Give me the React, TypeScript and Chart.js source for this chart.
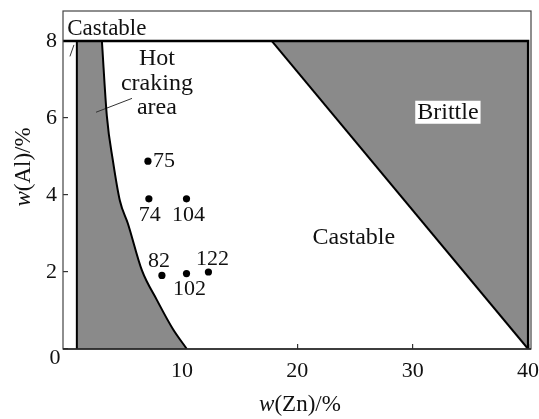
import { useEffect, useRef } from 'react';
import { Chart, registerables } from 'chart.js';

Chart.register(...registerables);

// ---- data (w(Zn) %, w(Al) %) ----
const xTicks = [10, 20, 30, 40];
const yTicks = [0, 2, 4, 6, 8];

// hot-cracking boundary curve
const crackZn = [3.07, 3.5, 4.03, 4.63, 5.32, 6.54, 7.84, 9.22, 10.43];
const crackAl = [8, 6.05, 4.88, 3.85, 3.26, 2.04, 1.27, 0.52, 0];
// left (castable strip) boundary
const leftEdgeZn = [0.9, 0.9];
const leftEdgeAl = [0, 8];
// top limit line and right limit
const limitZn = [-0.3, 40, 40];
const limitAl = [8, 8, 0];
// brittle boundary
const brittleZn = [17.8, 40];
const brittleAl = [8, 0];

// alloy samples
const sampleIds = ['75', '74', '104', '82', '102', '122'];
const sampleZn = [7.06, 7.14, 10.4, 8.27, 10.4, 12.3];
const sampleAl = [4.88, 3.9, 3.9, 1.91, 1.96, 2.0];

// ---- layout / style (not data) ----
const SERIF = "'Liberation Serif', 'Times New Roman', serif";
const GRAY = '#8a8a8a';
const sampleLabelOffsets: [number, number][] = [
  [16, 0],
  [1, 16],
  [2, 16],
  [-3, -14],
  [3, 16],
  [4, -13],
];
const regionLabels = [
  { text: 'Castable', x: 3.5, y: 8.32, size: 23 },
  { text: 'Hot', x: 7.84, y: 7.55, size: 24 },
  { text: 'craking', x: 7.84, y: 6.9, size: 24 },
  { text: 'area', x: 7.84, y: 6.28, size: 24 },
  { text: 'Castable', x: 24.9, y: 2.89, size: 24 },
];
const brittleLabel = { text: 'Brittle', x: 33.05, y: 6.15, size: 24 };
const leaderLines = [
  { x: [0.3, 0.65], y: [7.6, 7.9] },
  { x: [2.56, 5.68], y: [6.15, 6.51] },
];

const pts = (xs: number[], ys: number[]) => xs.map((x, i) => ({ x, y: ys[i] }));

function drawMixed(ctx: CanvasRenderingContext2D, parts: { t: string; it: boolean }[], cx: number, cy: number, size: number) {
  const widths = parts.map((p) => {
    ctx.font = `${p.it ? 'italic ' : ''}${size}px ${SERIF}`;
    return ctx.measureText(p.t).width;
  });
  const total = widths.reduce((a, b) => a + b, 0);
  let x = cx - total / 2;
  ctx.textAlign = 'left';
  ctx.textBaseline = 'middle';
  parts.forEach((p, i) => {
    ctx.font = `${p.it ? 'italic ' : ''}${size}px ${SERIF}`;
    ctx.fillText(p.t, x, cy);
    x += widths[i];
  });
}

const overlayPlugin = {
  id: 'overlay',
  afterDatasetsDraw(chart: any) {
    const { ctx, chartArea, scales } = chart;
    const xs = scales.x;
    const ys = scales.y;
    ctx.save();
    // frame
    ctx.strokeStyle = '#444';
    ctx.lineWidth = 1.2;
    ctx.strokeRect(chartArea.left, chartArea.top, chartArea.right - chartArea.left, chartArea.bottom - chartArea.top);
    ctx.strokeStyle = '#222';
    ctx.lineWidth = 1.6;
    ctx.beginPath();
    ctx.moveTo(chartArea.left, chartArea.bottom);
    ctx.lineTo(chartArea.right, chartArea.bottom);
    ctx.stroke();

    ctx.fillStyle = '#111';
    ctx.textAlign = 'center';
    ctx.textBaseline = 'middle';
    // sample labels
    ctx.font = `22px ${SERIF}`;
    sampleIds.forEach((id, i) => {
      const px = xs.getPixelForValue(sampleZn[i]) + sampleLabelOffsets[i][0];
      const py = ys.getPixelForValue(sampleAl[i]) + sampleLabelOffsets[i][1];
      ctx.fillText(id, px, py);
    });
    // region labels
    regionLabels.forEach((l) => {
      ctx.font = `${l.size}px ${SERIF}`;
      ctx.fillText(l.text, xs.getPixelForValue(l.x), ys.getPixelForValue(l.y));
    });
    // brittle label with white box
    ctx.font = `${brittleLabel.size}px ${SERIF}`;
    const bx = xs.getPixelForValue(brittleLabel.x);
    const by = ys.getPixelForValue(brittleLabel.y);
    const bw = ctx.measureText(brittleLabel.text).width + 4;
    ctx.fillStyle = '#fff';
    ctx.fillRect(bx - bw / 2, by - 11.5, bw, 23);
    ctx.fillStyle = '#111';
    ctx.fillText(brittleLabel.text, bx, by);

    // corner "0"
    ctx.font = `22px ${SERIF}`;
    ctx.fillText('0', chartArea.left - 8, ys.getPixelForValue(0) + 9);

    // axis titles
    drawMixed(ctx, [{ t: 'w', it: true }, { t: '(Zn)/%', it: false }], 300, 405, 23);
    ctx.save();
    ctx.translate(24, 167);
    ctx.rotate(-Math.PI / 2);
    drawMixed(ctx, [{ t: 'w', it: true }, { t: '(Al)/%', it: false }], 0, 0, 23);
    ctx.restore();
    ctx.restore();
  },
};

export default function App() {
  const ref = useRef<HTMLCanvasElement>(null);
  useEffect(() => {
    const canvas = ref.current;
    if (!canvas) return;
    const lineDs = (data: any[], width: number, color = '#000', extra: any = {}) => ({
      data,
      borderColor: color,
      borderWidth: width,
      pointRadius: 0,
      fill: false,
      tension: 0,
      order: 5,
      ...extra,
    });
    const chart = new Chart(canvas, {
      type: 'line',
      data: {
        datasets: [
          {
            data: pts(sampleZn, sampleAl),
            showLine: false,
            pointRadius: 3.6,
            pointBackgroundColor: '#000',
            pointBorderWidth: 0,
            order: 0,
          } as any,
          // fills
          {
            data: [
              { x: leftEdgeZn[0], y: 8 },
              { x: crackZn[0] + 0.06, y: 8 },
            ],
            borderWidth: 0,
            pointRadius: 0,
            fill: 'origin',
            backgroundColor: GRAY,
            order: 10,
          },
          {
            data: pts(crackZn, crackAl),
            borderWidth: 0,
            pointRadius: 0,
            fill: 'origin',
            backgroundColor: GRAY,
            cubicInterpolationMode: 'monotone',
            order: 10,
          },
          {
            data: pts(brittleZn, brittleAl),
            borderWidth: 0,
            pointRadius: 0,
            fill: { value: 8 },
            backgroundColor: GRAY,
            order: 10,
          },
          // boundary lines
          lineDs(pts(crackZn, crackAl), 2, '#000', { cubicInterpolationMode: 'monotone' }),
          lineDs(pts(leftEdgeZn, leftEdgeAl), 2),
          lineDs(pts(limitZn, limitAl), 2.4),
          lineDs(pts(brittleZn, brittleAl), 2),
          ...leaderLines.map((l) => lineDs(pts(l.x, l.y), 1, '#333')),
        ],
      },
      options: {
        animation: false,
        responsive: false,
        events: [],
        layout: { padding: { top: 11, right: 8, left: 0, bottom: 0 } },
        plugins: { legend: { display: false }, tooltip: { enabled: false } },
        scales: {
          x: {
            type: 'linear',
            min: -0.3,
            max: 40.25,
            afterBuildTicks: (s: any) => {
              s.ticks = xTicks.map((v) => ({ value: v }));
            },
            afterFit: (s: any) => {
              s.height = 70;
              s.paddingLeft = 0;
              s.paddingRight = 0;
            },
            border: { display: false },
            grid: { drawOnChartArea: false, drawTicks: true, tickLength: -5, color: '#333', lineWidth: 1.2 },
            ticks: { color: '#111', font: { family: SERIF, size: 22 }, padding: 14, maxRotation: 0 },
          },
          y: {
            type: 'linear',
            min: 0,
            max: 8.78,
            afterBuildTicks: (s: any) => {
              s.ticks = yTicks.map((v) => ({ value: v }));
            },
            afterFit: (s: any) => {
              s.width = 63;
              s.paddingTop = 0;
              s.paddingBottom = 0;
            },
            border: { display: false },
            grid: { drawOnChartArea: false, drawTicks: true, tickLength: -5, color: '#333', lineWidth: 1.2 },
            ticks: {
              color: '#111',
              font: { family: SERIF, size: 22 },
              padding: 11,
              callback: (v: any) => (Number(v) === 0 ? '' : String(v)),
            },
          },
        },
      },
      plugins: [overlayPlugin],
    } as any);
    return () => chart.destroy();
  }, []);
  return (
    <div style={{ position: 'absolute', left: 0, top: 0, width: 539, height: 419, background: '#fff' }}>
      <canvas ref={ref} width={539} height={419} />
    </div>
  );
}
